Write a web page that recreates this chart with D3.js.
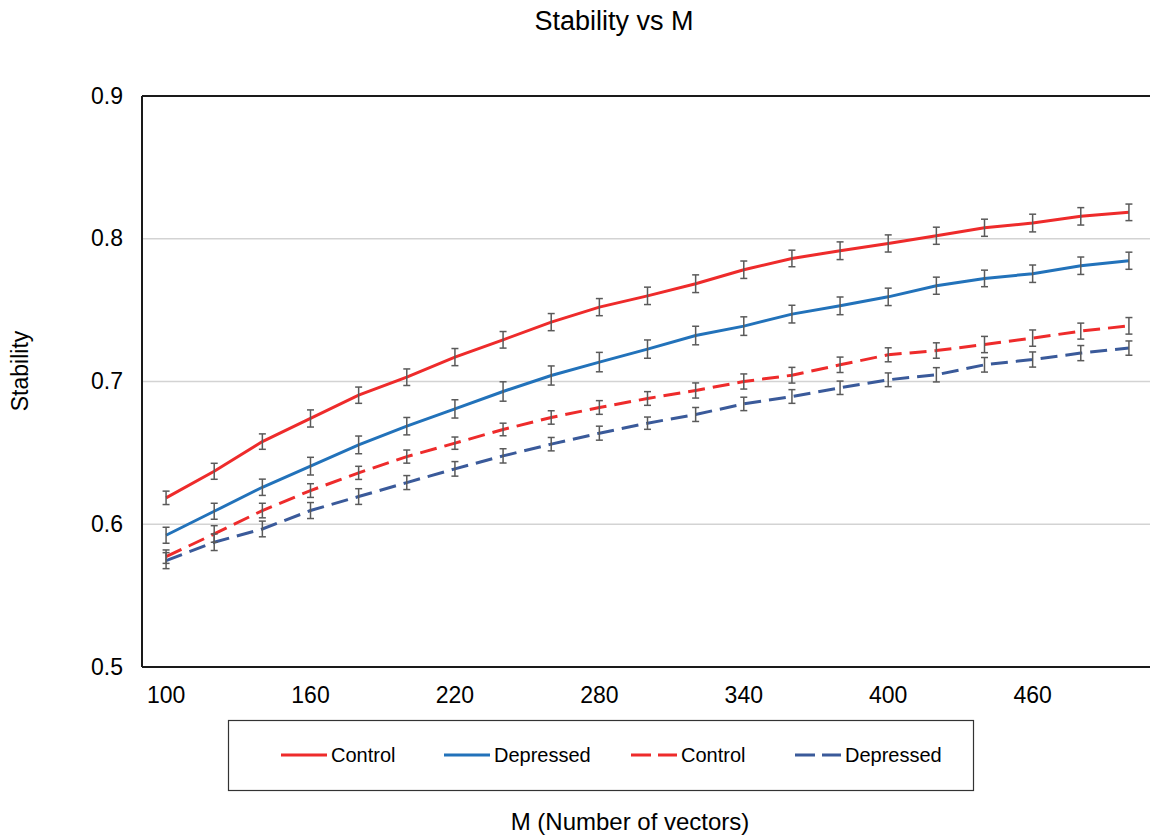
<!DOCTYPE html>
<html>

<head>
  <title>Stability vs M</title>
  <script src="https://cdn.jsdelivr.net/npm/d3@7"></script>
  <style>
    body { margin: 0; background: #fff; }
    text { font-family: "Liberation Sans", Arial, sans-serif; fill: #000; }
  </style>
</head>

<body>
  <svg width="1150" height="837" id="mainsvg"></svg>
  <script>
    // M values (categories)
    const mValues = [100, 120, 140, 160, 180, 200, 220, 240, 260, 280, 300,
      320, 340, 360, 380, 400, 420, 440, 460, 480, 500];
    const xTickLabels = [100, 160, 220, 280, 340, 400, 460];
    const yTickLabels = [0.5, 0.6, 0.7, 0.8, 0.9];

    // series values
    const controlSolid = [0.6185, 0.6371, 0.6579, 0.6741, 0.6904, 0.7030, 0.7171, 0.7292, 0.7416, 0.7521, 0.7600,
      0.7685, 0.7783, 0.7862, 0.7916, 0.7967, 0.8021, 0.8077, 0.8110, 0.8157, 0.8185];
    const depressedSolid = [0.5923, 0.6091, 0.6259, 0.6407, 0.6556, 0.6687, 0.6808, 0.6930, 0.7042, 0.7136, 0.7227,
      0.7322, 0.7388, 0.7472, 0.7530, 0.7593, 0.7671, 0.7722, 0.7755, 0.7811, 0.7846];
    const controlDashed = [0.5773, 0.5932, 0.6096, 0.6236, 0.6360, 0.6474, 0.6568, 0.6664, 0.6748, 0.6818, 0.6881,
      0.6937, 0.7000, 0.7044, 0.7117, 0.7187, 0.7217, 0.7259, 0.7304, 0.7353, 0.7390];
    const depressedDashed = [0.5745, 0.5874, 0.5967, 0.6096, 0.6194, 0.6292, 0.6388, 0.6479, 0.6561, 0.6638, 0.6708,
      0.6769, 0.6843, 0.6895, 0.6956, 0.7012, 0.7047, 0.7117, 0.7154, 0.7199, 0.7234];

    // error bar half-lengths
    const controlSolidErr = [0.0047, 0.0056, 0.0054, 0.0060, 0.0057, 0.0058, 0.0060, 0.0058, 0.0060, 0.0060, 0.0061,
      0.0062, 0.0061, 0.0058, 0.0062, 0.0060, 0.0060, 0.0060, 0.0062, 0.0061, 0.0058];
    const depressedSolidErr = [0.0056, 0.0056, 0.0057, 0.0062, 0.0062, 0.0061, 0.0064, 0.0068, 0.0067, 0.0068, 0.0064,
      0.0065, 0.0065, 0.0062, 0.0062, 0.0061, 0.0060, 0.0058, 0.0061, 0.0061, 0.0060];
    const controlDashedErr = [0.0047, 0.0058, 0.0051, 0.0048, 0.0046, 0.0046, 0.0043, 0.0044, 0.0047, 0.0048, 0.0048,
      0.0053, 0.0053, 0.0055, 0.0054, 0.0049, 0.0054, 0.0057, 0.0057, 0.0056, 0.0058];
    const depressedDashedErr = [0.0056, 0.0058, 0.0055, 0.0056, 0.0055, 0.0049, 0.0051, 0.0050, 0.0047, 0.0049, 0.0043,
      0.0049, 0.0047, 0.0048, 0.0047, 0.0048, 0.0050, 0.0051, 0.0053, 0.0053, 0.0050];

    const seriesNames = ['Control', 'Depressed', 'Control', 'Depressed'];

    const series = [
      { name: seriesNames[0], values: controlSolid, err: controlSolidErr, color: '#ee2b2b', dash: null },
      { name: seriesNames[1], values: depressedSolid, err: depressedSolidErr, color: '#2272ba', dash: null },
      { name: seriesNames[2], values: controlDashed, err: controlDashedErr, color: '#ee2b2b', dash: '17,8' },
      { name: seriesNames[3], values: depressedDashed, err: depressedDashedErr, color: '#3a5a9a', dash: '17,8' }
    ];

    const svg = d3.select('#mainsvg');
    const margin = { top: 96, left: 142, bottom: 170 };
    const plotRight = 1153;
    const plotBottom = 667;

    const x = d3.scaleLinear().domain([90, 510]).range([margin.left, plotRight]);
    const y = d3.scaleLinear().domain([0.5, 0.9]).range([plotBottom, margin.top]);

    // gridlines
    svg.append('g').selectAll('line').data(yTickLabels.filter(v => v > 0.5 && v < 0.9)).join('line')
      .attr('x1', margin.left).attr('x2', plotRight)
      .attr('y1', d => y(d)).attr('y2', d => y(d))
      .attr('stroke', '#d3d3d3').attr('stroke-width', 1.5);

    // frame: top, left, bottom
    svg.append('line').attr('x1', margin.left).attr('x2', plotRight)
      .attr('y1', y(0.9)).attr('y2', y(0.9)).attr('stroke', '#1a1a1a').attr('stroke-width', 2);
    svg.append('line').attr('x1', margin.left).attr('x2', plotRight)
      .attr('y1', y(0.5)).attr('y2', y(0.5)).attr('stroke', '#1a1a1a').attr('stroke-width', 2);
    svg.append('line').attr('x1', margin.left).attr('x2', margin.left)
      .attr('y1', y(0.9)).attr('y2', y(0.5)).attr('stroke', '#1a1a1a').attr('stroke-width', 2);

    // y tick labels
    svg.append('g').selectAll('text').data(yTickLabels).join('text')
      .attr('x', 123).attr('y', d => y(d)).attr('dy', '0.33em')
      .attr('text-anchor', 'end').attr('font-size', 23)
      .text(d => d3.format('.1f')(d));

    // x tick labels
    svg.append('g').selectAll('text').data(xTickLabels).join('text')
      .attr('x', d => x(d)).attr('y', 703)
      .attr('text-anchor', 'middle').attr('font-size', 23)
      .text(d => d);

    // lines
    const line = d3.line().x((d, i) => x(mValues[i])).y(d => y(d));
    svg.append('g').selectAll('path').data(series).join('path')
      .attr('fill', 'none')
      .attr('stroke', d => d.color)
      .attr('stroke-width', 3)
      .attr('stroke-dasharray', d => d.dash)
      .attr('d', d => line(d.values));

    // error bars
    const errG = svg.append('g').attr('stroke', '#5a5a5a').attr('stroke-width', 1.5);
    series.forEach(s => {
      const g = errG.append('g');
      s.values.forEach((v, i) => {
        const cx = x(mValues[i]);
        const y1 = y(v + s.err[i]);
        const y2 = y(v - s.err[i]);
        g.append('line').attr('x1', cx).attr('x2', cx).attr('y1', y1).attr('y2', y2);
        g.append('line').attr('x1', cx - 3.5).attr('x2', cx + 3.5).attr('y1', y1).attr('y2', y1);
        g.append('line').attr('x1', cx - 3.5).attr('x2', cx + 3.5).attr('y1', y2).attr('y2', y2);
      });
    });

    // title & axis titles
    svg.append('text').attr('x', 614).attr('y', 30).attr('text-anchor', 'middle')
      .attr('font-size', 27).text('Stability vs M');
    svg.append('text').attr('transform', 'translate(20, 371) rotate(-90)')
      .attr('text-anchor', 'middle').attr('dominant-baseline', 'central')
      .attr('font-size', 23).text('Stability');
    svg.append('text').attr('x', 630).attr('y', 830).attr('text-anchor', 'middle')
      .attr('font-size', 24).text('M (Number of vectors)');

    // legend
    svg.append('rect').attr('x', 228.5).attr('y', 720.5).attr('width', 745).attr('height', 70)
      .attr('fill', 'none').attr('stroke', '#333').attr('stroke-width', 1.2);
    const legendX = [281, 444, 631, 795];
    const lg = svg.append('g').selectAll('g').data(series).join('g')
      .attr('transform', (d, i) => `translate(${legendX[i]}, 755)`);
    lg.append('line').attr('x1', 0).attr('x2', 46).attr('y1', 0).attr('y2', 0)
      .attr('stroke', d => d.color).attr('stroke-width', 3)
      .attr('stroke-dasharray', d => d.dash ? '20,7' : null);
    lg.append('text').attr('x', 50).attr('dy', '0.35em').attr('font-size', 20)
      .text(d => d.name);
  </script>
</body>

</html>
